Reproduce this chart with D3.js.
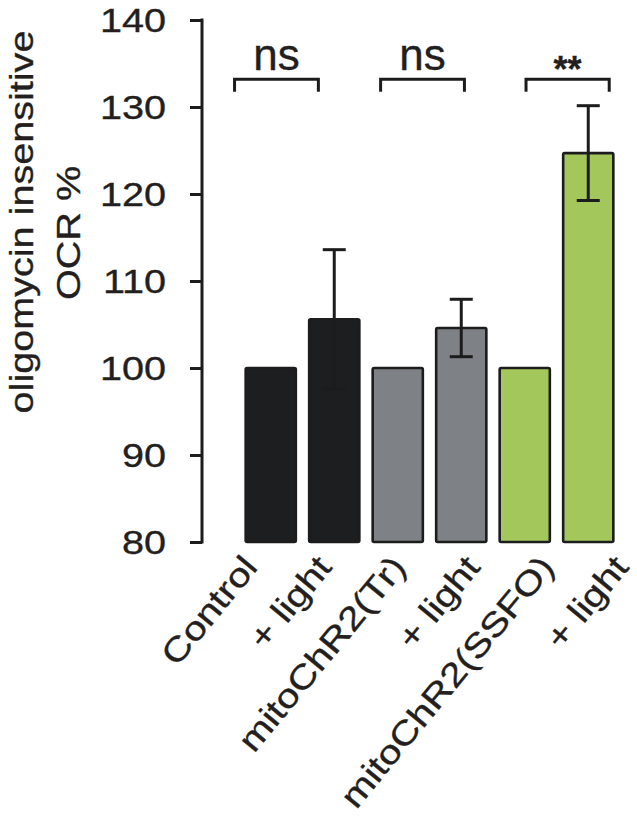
<!DOCTYPE html>
<html>
<head>
<meta charset="utf-8">
<script src="https://cdn.jsdelivr.net/npm/d3@7"></script>
<style>
html,body{margin:0;padding:0;background:#fff;}
svg{display:block;}
text{font-family:"Liberation Sans",Arial,sans-serif;fill:#231f20;stroke:#231f20;stroke-width:0.35px;}
</style>
</head>
<body>
<svg id="chart" width="637" height="826"></svg>
<script>
// ---- data ----
const categories = ["Control", "+ light", "mitoChR2(Tr)", "+ light", "mitoChR2(SSFO)", "+ light"];
const values = [100, 105.6, 100, 104.6, 100, 124.7];
const errors = [0, 8.0, 0, 3.3, 0, 5.45];
const groups = ["control", "control", "tr", "tr", "ssfo", "ssfo"];
const yTicks = [80, 90, 100, 110, 120, 130, 140];
const yLabelLines = ["oligomycin insensitive", "OCR %"];
// significance brackets: span in bar-index units, label
const bracketFrom = [-0.57, 1.73, 4.02];
const bracketTo = [0.75, 3.05, 5.33];
const bracketLabels = ["ns", "ns", "**"];
const bracketLevel = 133.2;

// ---- styles ----
const colors = {control: "#1d1e20", tr: "#7e8185", ssfo: "#a4c75c"};
const ink = "#1c1c1c";
const fs = 33, sx = 1.2;

const svg = d3.select("#chart");
const idx = d3.range(categories.length);

const x = d3.scaleBand().domain(idx).range([239, 620]).paddingInner(0.21).paddingOuter(0.105);
const y = d3.scaleLinear().domain([80, 140]).range([542, 20]);
const xc = d3.scaleLinear().domain([0, categories.length - 1])
  .range([x(0) + x.bandwidth() / 2, x(categories.length - 1) + x.bandwidth() / 2]);
// rotated category labels (end-anchored) are spread a little wider than the bars
const xLab = d3.scaleLinear().domain([0, categories.length - 1]).range([259, 630]);

// bars
svg.append("g").selectAll("rect").data(idx).join("rect")
  .attr("x", i => x(i))
  .attr("y", i => y(values[i]))
  .attr("width", x.bandwidth())
  .attr("height", i => y(80) - y(values[i]))
  .attr("rx", 1.5)
  .attr("fill", i => colors[groups[i]])
  .attr("stroke", ink)
  .attr("stroke-width", 2.6);

// error bars
const eb = svg.append("g").attr("stroke", ink).attr("stroke-width", 3).attr("fill", "none");
idx.filter(i => errors[i] > 0).forEach(i => {
  const cx = x(i) + x.bandwidth() / 2;
  const top = y(values[i] + errors[i]), bot = y(values[i] - errors[i]);
  eb.append("line").attr("x1", cx).attr("x2", cx).attr("y1", top).attr("y2", bot);
  eb.append("line").attr("x1", cx - 11.5).attr("x2", cx + 11.5).attr("y1", top).attr("y2", top);
  eb.append("line").attr("x1", cx - 11.5).attr("x2", cx + 11.5).attr("y1", bot).attr("y2", bot);
});

// y axis
const ax = svg.append("g").attr("transform", "translate(202,0)")
  .call(d3.axisLeft(y).tickValues(yTicks).tickSize(12).tickSizeOuter(0).tickPadding(24).tickFormat(d3.format("d")));
ax.select(".domain").attr("stroke", ink).attr("stroke-width", 3)
  .attr("d", `M0,${y(140) - 1.5}V${y(80) + 1.5}`);
ax.selectAll(".tick line").attr("stroke", ink).attr("stroke-width", 3);
ax.selectAll(".tick text")
  .attr("font-family", "Liberation Sans, Arial, sans-serif")
  .attr("font-size", fs)
  .attr("fill", "#231f20")
  .attr("x", -36 / sx)
  .attr("dy", "0.34em")
  .attr("transform", `scale(${sx},1)`);

// y label
const ylPos = [[33, 222], [80, 233]];
yLabelLines.forEach((t, k) => {
  svg.append("text")
    .attr("transform", `translate(${ylPos[k][0]},${ylPos[k][1]}) rotate(-90) scale(${sx},1)`)
    .attr("text-anchor", "middle")
    .attr("font-size", fs)
    .text(t);
});

// x labels
svg.append("g").selectAll("text").data(idx).join("text")
  .attr("transform", i => `translate(${xLab(i)},568) rotate(-50.5) scale(${sx},1)`)
  .attr("text-anchor", "end")
  .attr("font-size", 33.4)
  .text(i => categories[i]);

// brackets
const br = svg.append("g");
bracketLabels.forEach((lab, k) => {
  const x1 = xc(bracketFrom[k]), x2 = xc(bracketTo[k]);
  const yl = y(bracketLevel);
  br.append("path")
    .attr("d", `M${x1},${yl + 12.5}V${yl}H${x2}V${yl + 12.5}`)
    .attr("fill", "none").attr("stroke", ink).attr("stroke-width", 3);
  const t = br.append("text")
    .attr("x", (x1 + x2) / 2)
    .attr("text-anchor", "middle")
    .text(lab);
  if (lab === "ns") {
    t.attr("y", yl - 9).attr("font-size", 44);
  } else {
    t.attr("y", yl + 3).attr("font-size", 36).attr("font-weight", "bold");
  }
});
</script>
</body>
</html>
